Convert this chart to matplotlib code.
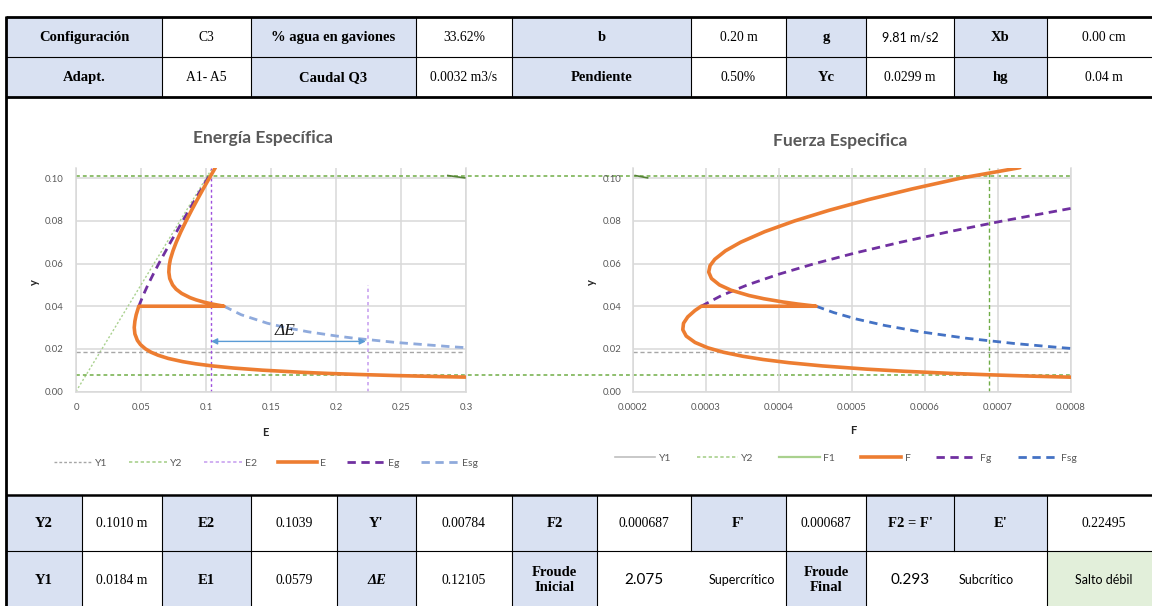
import matplotlib
matplotlib.use("Agg")
import matplotlib.pyplot as plt
from matplotlib.lines import Line2D
from matplotlib.patches import Rectangle
import matplotlib.transforms as mtransforms

# ---------------- summary tables ----------------
top_row1 = ["Configuración", "C3", "% agua en gaviones", "33.62%", "b", "0.20 m",
            "g", "9.81 m/s2", "Xb", "0.00 cm"]
top_row2 = ["Adapt.", "A1- A5", "Caudal Q3", "0.0032 m3/s", "Pendiente", "0.50%",
            "Yc", "0.0299 m", "hg", "0.04 m"]
bottom_row1 = ["Y2", "0.1010 m", "E2", "0.1039", "Y'", "0.00784", "F2", "0.000687",
               "F'", "0.000687", "F2 = F'", "E'", "0.22495"]
bottom_row2 = ["Y1", "0.0184 m", "E1", "0.0579", "ΔE", "0.12105", "Froude\nInicial",
               "2.075", "Supercrítico", "Froude\nFinal", "0.293", "Subcrítico", "Salto débil"]

# ---------------- hydraulic results ----------------
Y1 = 0.0184
Y2 = 0.101
Y_prime = 0.00784
E2 = 0.1039
E_prime = 0.22495
F2 = 0.000687

# specific energy E(y)
E_vals = [0.2997, 0.2793, 0.2447, 0.2165, 0.1932, 0.1738, 0.1435, 0.1213, 0.1047, 0.0920,
          0.0821, 0.0710, 0.0632, 0.0578, 0.0534, 0.0496, 0.0472, 0.0453, 0.0448, 0.0453,
          0.0463, 0.0483, 0.1138, 0.1049, 0.0979, 0.0923, 0.0878, 0.0813, 0.0770, 0.0743,
          0.0721, 0.0714, 0.0717, 0.0726, 0.0746, 0.0771, 0.0807, 0.0847, 0.0889, 0.0933,
          0.0978, 0.1025, 0.1072]
E_y = [0.00675, 0.0070, 0.0075, 0.0080, 0.0085, 0.0090, 0.0100, 0.0110, 0.0120, 0.0130,
       0.0140, 0.0155, 0.0170, 0.0184, 0.0200, 0.0220, 0.0240, 0.0270, 0.0300, 0.0330,
       0.0360, 0.0400, 0.0400, 0.041, 0.042, 0.043, 0.044, 0.046, 0.048, 0.050,
       0.053, 0.056, 0.059, 0.062, 0.066, 0.070, 0.075, 0.080, 0.085, 0.090,
       0.095, 0.100, 0.105]

Eg_vals = [0.0483, 0.0516, 0.0553, 0.0594, 0.0637, 0.0727, 0.0821, 0.0916, 0.1023]
Eg_y = [0.040, 0.045, 0.050, 0.055, 0.060, 0.070, 0.080, 0.090, 0.101]

Esg_vals = [0.1138, 0.1271, 0.1473, 0.1612, 0.1786, 0.2007, 0.2139, 0.2462, 0.2887, 0.2988]
Esg_y = [0.040, 0.036, 0.032, 0.030, 0.028, 0.026, 0.025, 0.023, 0.021, 0.0206]

# specific force F(y)
F_vals = [8.013e-4, 7.467e-4, 6.870e-4, 6.353e-4, 5.710e-4, 5.194e-4, 4.593e-4, 4.137e-4,
          3.784e-4, 3.508e-4, 3.240e-4, 3.024e-4, 2.850e-4, 2.729e-4, 2.682e-4, 2.692e-4,
          2.750e-4, 2.849e-4, 2.935e-4, 4.508e-4, 4.261e-4, 4.052e-4, 3.794e-4, 3.591e-4,
          3.344e-4, 3.184e-4, 3.075e-4, 3.037e-4, 3.055e-4, 3.120e-4, 3.267e-4, 3.474e-4,
          3.806e-4, 4.213e-4, 4.687e-4, 5.224e-4, 5.822e-4, 6.479e-4, 7.300e-4]
F_y = [0.0067, 0.0072, 0.00784, 0.0085, 0.0095, 0.0105, 0.012, 0.0135,
       0.015, 0.0165, 0.0184, 0.0205, 0.023, 0.026, 0.029, 0.032,
       0.035, 0.038, 0.040, 0.040, 0.041, 0.042, 0.0435, 0.045,
       0.0475, 0.050, 0.053, 0.056, 0.059, 0.062, 0.066, 0.070,
       0.075, 0.080, 0.085, 0.090, 0.095, 0.100, 0.105]

Fg_vals = [2.935e-4, 3.211e-4, 3.568e-4, 3.996e-4, 4.490e-4, 5.046e-4, 5.663e-4, 6.337e-4,
           7.067e-4, 8.017e-4]
Fg_y = [0.040, 0.045, 0.050, 0.055, 0.060, 0.065, 0.070, 0.075, 0.080, 0.086]

Fsg_vals = [4.508e-4, 4.752e-4, 5.059e-4, 5.445e-4, 5.935e-4, 6.562e-4, 7.228e-4, 7.887e-4,
            8.036e-4]
Fsg_y = [0.040, 0.037, 0.034, 0.031, 0.028, 0.025, 0.0225, 0.0205, 0.0201]

E_xticks = [0, 0.05, 0.1, 0.15, 0.2, 0.25, 0.3]
E_xticklabels = ["0", "0.05", "0.1", "0.15", "0.2", "0.25", "0.3"]
F_xticks = [0.0002, 0.0003, 0.0004, 0.0005, 0.0006, 0.0007, 0.0008]
F_xticklabels = ["0.0002", "0.0003", "0.0004", "0.0005", "0.0006", "0.0007", "0.0008"]
y_ticks = [0.0, 0.02, 0.04, 0.06, 0.08, 0.10]
y_ticklabels = ["0.00", "0.02", "0.04", "0.06", "0.08", "0.10"]

# ---------------- colours ----------------
ORANGE = "#ED7D31"
PURPLE = "#7030A0"
LIGHTBLUE = "#8FAADC"
BLUE = "#4472C4"
GREEN = "#70AD47"
LIGHTGREEN = "#A9D18E"
DARKGREEN = "#548235"
GRAY = "#A6A6A6"
VIOLET = "#9D4EDD"
LAVENDER = "#C9A3F0"
HEADER = "#D9E1F2"
OKFILL = "#E2EFDA"
TXT = "#595959"

SERIF = ["Liberation Serif", "DejaVu Serif"]
SANS = ["Lato", "DejaVu Sans"]

W, H = 1152, 606
fig = plt.figure(figsize=(W / 100, H / 100), dpi=100)
fig.patch.set_facecolor("white")

bg = fig.add_axes([0, 0, 1, 1])
bg.set_xlim(0, W)
bg.set_ylim(H, 0)
bg.axis("off")

# ---------------- tables ----------------
cols = [6, 82, 162, 251, 337, 416, 512, 597, 691, 786, 866, 954, 1047, 1160]

styles = {
    "h": dict(family=SERIF, weight="bold", fontsize=10.5, color="black"),
    "v": dict(family=SERIF, fontsize=9.8, color="black"),
    "hi": dict(family=SERIF, weight="bold", style="italic", fontsize=10.5, color="black"),
    "s": dict(family=SANS, fontsize=9, color="black"),
    "S": dict(family=SANS, fontsize=11, color="black"),
    "ss": dict(family=SANS, fontsize=9, color="black"),
}


def draw_row(y0, y1, spans, texts, kinds, fills, no_left=(), shift=None):
    shift = shift or {}
    for i, ((a, b), txt, kind, fc) in enumerate(zip(spans, texts, kinds, fills)):
        x0, x1 = cols[a], cols[b]
        if fc:
            bg.add_patch(Rectangle((x0, y0), x1 - x0, y1 - y0, facecolor=fc,
                                   edgecolor="none", zorder=1))
        if i not in no_left:
            bg.plot([x0, x0], [y0, y1], color="black", lw=0.8, zorder=3)
        bg.text((x0 + x1) / 2 + shift.get(i, 0), (y0 + y1) / 2 + 0.5, txt, ha="center",
                va="center", linespacing=1.25, zorder=4, **styles[kind])


top_spans = [(0, 2), (2, 3), (3, 5), (5, 6), (6, 8), (8, 9), (9, 10), (10, 11), (11, 12), (12, 13)]
top_fill = [HEADER, None] * 5
draw_row(17, 57, top_spans, top_row1, ["h", "v", "h", "v", "h", "v", "h", "s", "h", "v"], top_fill)
draw_row(57, 97, top_spans, top_row2, ["h", "v", "h", "v", "h", "v", "h", "v", "h", "v"], top_fill)

bot_spans = [(i, i + 1) for i in range(13)]
draw_row(495, 551, bot_spans, bottom_row1,
         ["h", "v", "h", "v", "h", "v", "h", "v", "h", "v", "h", "h", "v"],
         [HEADER, None, HEADER, None, HEADER, None, HEADER, None, HEADER, None, HEADER, HEADER, None])
draw_row(551, 608, bot_spans, bottom_row2,
         ["h", "v", "h", "v", "hi", "v", "h", "S", "ss", "h", "S", "ss", "ss"],
         [HEADER, None, HEADER, None, HEADER, None, HEADER, None, None, HEADER, None, None, OKFILL],
         no_left=(8, 11), shift={8: 3, 11: -14})

for yy, lw in [(17, 2.0), (57, 0.8), (97, 2.0), (495, 1.8), (551, 0.8)]:
    bg.plot([6, W], [yy, yy], color="black", lw=lw, zorder=5, solid_capstyle="butt")
bg.plot([6, 6], [16, H], color="black", lw=2.0, zorder=5, solid_capstyle="butt")

# ---------------- chart axes ----------------
Y0_PX = 391.5          # pixel row of y = 0
PX_PER_Y = 2132.0      # pixels per metre of depth
Y_TOP = 0.105
top_px = Y0_PX - Y_TOP * PX_PER_Y


def px_box(x0, x1):
    return [x0 / W, 1 - Y0_PX / H, (x1 - x0) / W, (Y0_PX - top_px) / H]


axE = fig.add_axes(px_box(76, 466))
axF = fig.add_axes(px_box(633, 1071))

for ax, xt, xtl, xlim, ypad in [(axE, E_xticks, E_xticklabels, (0, 0.3), 9),
                               (axF, F_xticks, F_xticklabels, (0.0002, 0.0008), 8)]:
    ax.set_xlim(*xlim)
    ax.set_ylim(0, Y_TOP)
    ax.set_xticks(xt)
    ax.set_xticklabels(xtl)
    ax.set_yticks(y_ticks)
    ax.set_yticklabels(y_ticklabels)
    ax.patch.set_visible(False)
    ax.grid(True, color="#D9D9D9", lw=1.1, zorder=0)
    ax.set_axisbelow(True)
    for side, sp in ax.spines.items():
        sp.set_visible(side != "top")
        sp.set_color("#D9D9D9")
        sp.set_linewidth(1.1)
    ax.tick_params(length=0, labelsize=6.8, colors=TXT)
    ax.tick_params(axis="x", pad=8)
    ax.tick_params(axis="y", pad=ypad)
    for lab in ax.get_xticklabels() + ax.get_yticklabels():
        lab.set_family(SANS)

# ---- energy chart ----
axE.plot([0, 0.104], [0, 0.104], color=LIGHTGREEN, lw=1.0, dashes=(1.5, 1.5), zorder=2)
axE.axhline(Y1, color=GRAY, lw=1.0, dashes=(3, 2), zorder=2)
axE.plot([E2, E2], [0, Y_TOP], color=VIOLET, lw=1.0, dashes=(2, 2), zorder=2)
axE.plot([E_prime, E_prime], [0, 0.05], color=LAVENDER, lw=1.2, dashes=(2, 2), zorder=2)
axE.plot(Esg_vals, Esg_y, color=LIGHTBLUE, lw=2.0, dashes=(3, 2), zorder=3)
axE.plot(Eg_vals, Eg_y, color=PURPLE, lw=2.0, dashes=(3, 2), zorder=4)
axE.plot(E_vals, E_y, color=ORANGE, lw=2.6, zorder=5, solid_joinstyle="round",
         solid_capstyle="round")
axE.plot([0.286, 0.299], [0.1013, 0.1002], color=DARKGREEN, lw=1.2, zorder=3, clip_on=False)
axE.annotate("", xy=(E2, 0.0235), xytext=(E_prime - 0.002, 0.0235),
             arrowprops=dict(arrowstyle="<|-|>", color="#5B9BD5", lw=1.0,
                             mutation_scale=9, shrinkA=0, shrinkB=0), zorder=6)
axE.text(0.161, 0.0282, "ΔE", family=SERIF, style="italic", fontsize=12.5,
         color="#1A1A1A", ha="center", va="center", zorder=6)

# green reference depths run across both charts
span = mtransforms.blended_transform_factory(fig.transFigure, axE.transData)
for yv in (Y2, Y_prime):
    axE.plot([76 / W, 1072 / W], [yv, yv], color=GREEN, lw=1.1, dashes=(2.5, 2),
             transform=span, clip_on=False, zorder=2)

# ---- force chart ----
axF.axhline(Y1, color=GRAY, lw=1.0, dashes=(3, 2), zorder=2)
axF.plot([F2, F2], [0, Y_TOP], color=GREEN, lw=1.0, dashes=(3, 2), zorder=2)
axF.plot([0.000203, 0.000220], [0.1013, 0.1002], color=DARKGREEN, lw=1.2, zorder=3,
         clip_on=False)
axF.plot(Fsg_vals, Fsg_y, color=BLUE, lw=2.0, dashes=(3, 2), zorder=3)
axF.plot(Fg_vals, Fg_y, color=PURPLE, lw=2.0, dashes=(3, 2), zorder=4)
axF.plot(F_vals, F_y, color=ORANGE, lw=2.6, zorder=5, solid_joinstyle="round",
         solid_capstyle="round")

# ---- titles, axis names ----
bg.text(263, 138, "Energía Específica", family=SANS, weight="bold", fontsize=12.5,
        color=TXT, ha="center", va="center")
bg.text(840, 141, "Fuerza Especifica", family=SANS, weight="bold", fontsize=12.5,
        color=TXT, ha="center", va="center")
bg.text(265, 432, "E", family=SANS, weight="bold", fontsize=8, color="#262626",
        ha="center", va="center")
bg.text(853, 430, "F", family=SANS, weight="bold", fontsize=8, color="#262626",
        ha="center", va="center")
bg.text(34, 282, "y", family=SANS, weight="bold", fontsize=8, color="#262626",
        ha="center", va="center", rotation=90)
bg.text(591, 282, "y", family=SANS, weight="bold", fontsize=8, color="#262626",
        ha="center", va="center", rotation=90)

# ---- legends ----
left_handles = [
    Line2D([], [], color=GRAY, lw=1.0, dashes=(2, 1.5)),
    Line2D([], [], color=LIGHTGREEN, lw=1.2, dashes=(2, 1.5)),
    Line2D([], [], color=LAVENDER, lw=1.2, dashes=(2, 1.5)),
    Line2D([], [], color=ORANGE, lw=2.6),
    Line2D([], [], color=PURPLE, lw=2.0, dashes=(3, 2)),
    Line2D([], [], color=LIGHTBLUE, lw=2.0, dashes=(3, 2)),
]
right_handles = [
    Line2D([], [], color="#BFBFBF", lw=1.2),
    Line2D([], [], color=LIGHTGREEN, lw=1.2, dashes=(2, 1.5)),
    Line2D([], [], color=LIGHTGREEN, lw=1.6),
    Line2D([], [], color=ORANGE, lw=2.6),
    Line2D([], [], color=PURPLE, lw=2.0, dashes=(3, 2)),
    Line2D([], [], color=BLUE, lw=2.0, dashes=(3, 2)),
]
leg_kw = dict(loc="center", ncol=6, frameon=False, handletextpad=0.3,
              prop=dict(family=SANS, size=7.5), labelcolor=TXT)
fig.legend(left_handles, ["Y1", "Y2", "E2", "E", "Eg", "Esg"],
           bbox_to_anchor=(266 / W, 1 - 463 / H), handlelength=3.7, columnspacing=2.0,
           **leg_kw)
fig.legend(right_handles, ["Y1", "Y2", "F1", "F", "Fg", "Fsg"],
           bbox_to_anchor=(846 / W, 1 - 458 / H), handlelength=3.9, columnspacing=2.5,
           **leg_kw)

fig.savefig("out.png", dpi=100)
